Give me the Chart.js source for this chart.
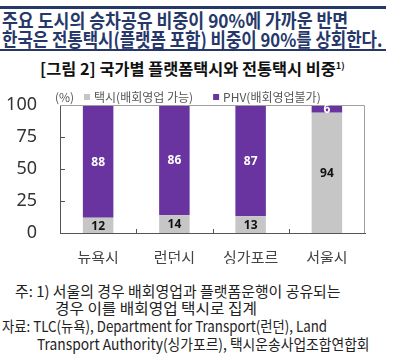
<!DOCTYPE html>
<html>
<head>
<meta charset="utf-8">
<script src="https://cdn.jsdelivr.net/npm/chart.js@4"></script>
<style>
  body { margin: 0; background: #fff; width: 393px; height: 361px; position: relative; overflow: hidden; font-family: "Noto Sans CJK KR", sans-serif; }
  .rule { position: absolute; left: 0; width: 386px; background: #26386a; }
  .txt { position: absolute; white-space: nowrap; transform-origin: 0 50%; line-height: 1; }
  .title { color: #26386a; font-weight: bold; font-size: 19px; }
  .sub { color: #111; font-weight: bold; font-size: 16px; }
  .note { color: #222; font-size: 15px; }
  #box { position: absolute; left: 0; top: 84px; width: 393px; height: 180px; }
</style>
</head>
<body>
<div class="rule" style="top:6px;height:3px"></div>
<div class="rule" style="top:49px;height:2px"></div>
<div class="txt title" data-x="2" data-y="19" data-w="346">주요 도시의 승차공유 비중이 90%에 가까운 반면</div>
<div class="txt title" data-x="2" data-y="38" data-w="380">한국은 전통택시(플랫폼 포함) 비중이 90%를 상회한다.</div>
<div class="txt sub" data-x="40" data-y="68" data-w="305">[그림 2] 국가별 플랫폼택시와 전통택시 비중<sup style="font-size:9px">1)</sup></div>
<div class="txt note" data-x="15" data-y="290" data-w="326">주: 1) 서울의 경우 배회영업과 플랫폼운행이 공유되는</div>
<div class="txt note" data-x="55" data-y="307" data-w="202">경우 이를 배회영업 택시로 집계</div>
<div class="txt note" data-x="2" data-y="325" data-w="325">자료: TLC(뉴욕), Department for Transport(런던), Land</div>
<div class="txt note" data-x="37" data-y="343" data-w="333">Transport Authority(싱가포르), 택시운송사업조합연합회</div>
<div id="box"><canvas id="chart"></canvas></div>
<script>
const cities = ["뉴욕시", "런던시", "싱가포르", "서울시"];
const taxiShare = [12, 14, 13, 94];
const phvShare = [88, 86, 87, 6];
const yTicks = [0, 25, 50, 75, 100];

const GRAY = "#c6c6c6";
const PURPLE = "#6934a0";

// place the header/footer texts and squeeze them to the reference widths
document.querySelectorAll(".txt").forEach((el) => {
  el.style.left = el.dataset.x + "px";
  const h = el.offsetHeight;
  el.style.top = el.dataset.y - h / 2 + "px";
  const w = el.scrollWidth;
  el.style.transform = "scaleX(" + el.dataset.w / w + ")";
});

const frame = {
  id: "frame",
  afterDraw(chart) {
    const { ctx, chartArea: a, scales } = chart;
    ctx.save();
    // light box on top and right
    ctx.strokeStyle = "#a0a0a0";
    ctx.lineWidth = 1;
    ctx.beginPath();
    ctx.moveTo(a.left, a.top + 0.5);
    ctx.lineTo(a.right - 0.5, a.top + 0.5);
    ctx.lineTo(a.right - 0.5, a.bottom);
    ctx.stroke();
    // small inside ticks
    ctx.strokeStyle = "#555";
    ctx.beginPath();
    yTicks.slice(1, -1).forEach((v) => {
      const y = Math.round(scales.y.getPixelForValue(v)) + 0.5;
      ctx.moveTo(a.left, y);
      ctx.lineTo(a.left + 5, y);
    });
    for (let i = 0; i < cities.length - 1; i++) {
      const x = Math.round((scales.x.getPixelForValue(i) + scales.x.getPixelForValue(i + 1)) / 2) + 0.5;
      ctx.moveTo(x, a.bottom);
      ctx.lineTo(x, a.bottom - 4);
    }
    ctx.stroke();

    // value labels
    ctx.font = "bold 12px 'Noto Sans', sans-serif";
    ctx.textAlign = "center";
    ctx.textBaseline = "middle";
    chart.data.datasets.forEach((ds, di) => {
      chart.getDatasetMeta(di).data.forEach((bar, i) => {
        const p = bar.getProps(["x", "y", "base"], true);
        ctx.fillStyle = di === 0 ? "#111" : "#fff";
        ctx.fillText(ds.data[i], p.x, (p.y + p.base) / 2 + 1);
      });
    });

    // legend
    ctx.font = "12px 'Noto Sans CJK KR', sans-serif";
    ctx.textAlign = "left";
    ctx.fillStyle = "#555";
    const ly = 13;
    ctx.fillText("(%)", 55, ly);
    let x = 84;
    chart.data.datasets.forEach((ds, di) => {
      ctx.fillStyle = ds.backgroundColor;
      ctx.fillRect(x, ly - 3, 6, 6);
      ctx.fillStyle = "#555";
      ctx.fillText(ds.label, x + 10, ly);
      x += 10 + ctx.measureText(ds.label).width + 20;
    });
    ctx.restore();
  },
};

new Chart(document.getElementById("chart"), {
  type: "bar",
  data: {
    labels: cities,
    datasets: [
      { label: "택시(배회영업 가능)", data: taxiShare, backgroundColor: GRAY },
      { label: "PHV(배회영업불가)", data: phvShare, backgroundColor: PURPLE },
    ],
  },
  options: {
    responsive: true,
    maintainAspectRatio: false,
    animation: false,
    layout: { padding: { top: 21, right: 28, left: 0, bottom: 0 } },
    plugins: { legend: { display: false }, tooltip: { enabled: false } },
    datasets: { bar: { barPercentage: 0.4, categoryPercentage: 1 } },
    scales: {
      x: {
        stacked: true,
        afterFit: (s) => { s.height = 31; s.paddingLeft = 0; s.paddingRight = 0; },
        grid: { display: false },
        border: { color: "#555" },
        ticks: { color: "#444", font: { family: "Noto Sans CJK KR", size: 15 }, padding: 7 },
      },
      y: {
        stacked: true,
        min: 0,
        max: 100,
        afterFit: (s) => { s.width = 60; s.paddingTop = 0; s.paddingBottom = 0; },
        afterBuildTicks: (s) => { s.ticks = yTicks.map((v) => ({ value: v })); },
        grid: { display: false },
        border: { color: "#555" },
        ticks: { color: "#333", font: { family: "Noto Sans", size: 18 }, padding: 15 },
      },
    },
  },
  plugins: [frame],
});
</script>
</body>
</html>
